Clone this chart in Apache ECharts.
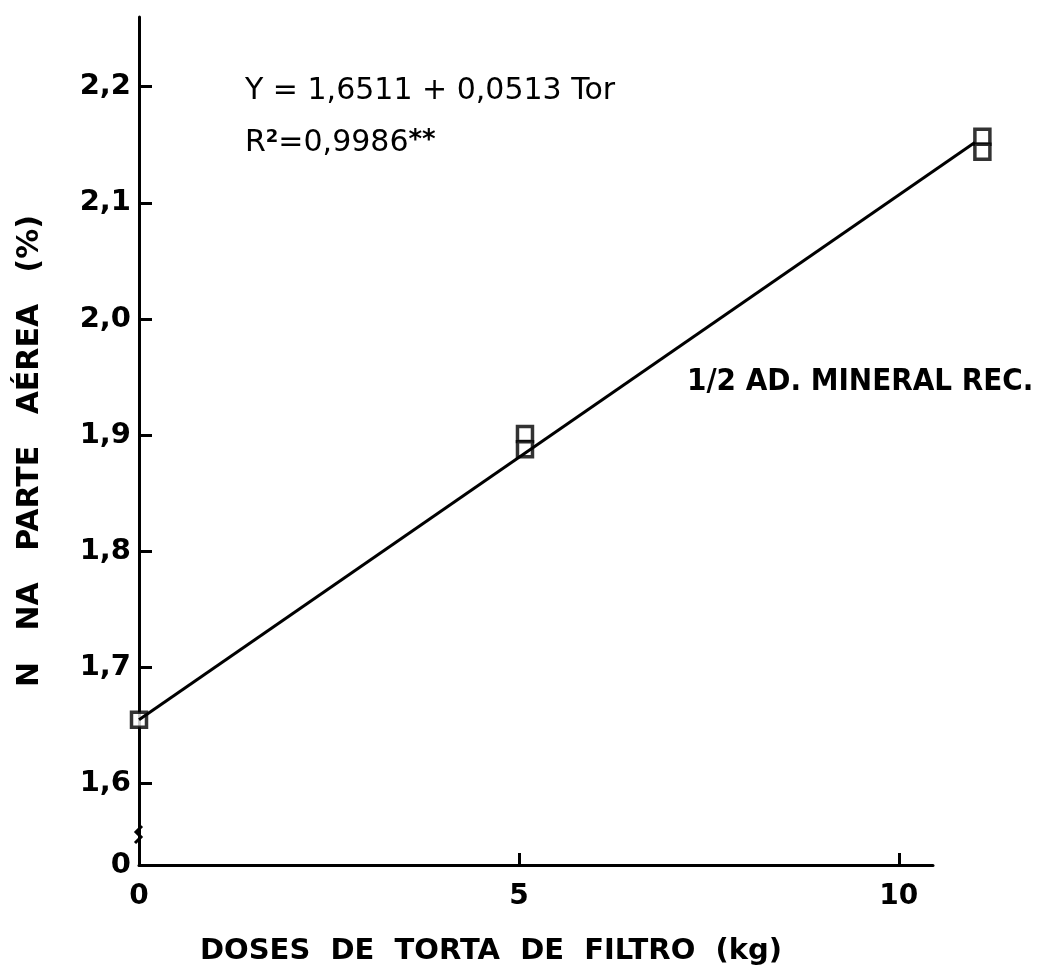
<!DOCTYPE html>
<html>
<head>
<meta charset="utf-8">
<script src="https://cdn.jsdelivr.net/npm/echarts@6/dist/echarts.min.js"></script>
<style>
  html, body { margin: 0; padding: 0; background: #fff; }
  #chart { width: 1040px; height: 978px; }
</style>
</head>
<body>
<div id="chart"></div>
<script>
// dados
const doses = [0, 5.08, 5.08, 11.1, 11.1]
const nParte = [1.655, 1.901, 1.888, 2.157, 2.144]
const fitX = [0, 11.0]
const fitY = [1.655, 2.152]
const yTicks = [1.6, 1.7, 1.8, 1.9, 2.0, 2.1, 2.2]
const xTicks = [0, 5, 10]

const yMin = 1.53
const yMax = 2.26
const xAxisMax = 10.45
const pxPerUnit = 794 / xAxisMax
const xDataMax = 11.5
const font = 'DejaVu Sans'

let ch = echarts.init(document.getElementById('chart'))

let option = {
  animation: false,
  backgroundColor: '#fff',
  grid: [
    // grade dos dados (mais larga, pontos além do fim do eixo x)
    { left: 139, right: 1040 - 139 - pxPerUnit * xDataMax, top: 17, bottom: 113 },
    // grade do eixo x visível
    { left: 139, right: 107, top: 17, bottom: 113 }
  ],
  xAxis: [
    {
      gridIndex: 0, type: 'value', min: 0, max: xDataMax, show: false
    },
    {
      gridIndex: 1,
      type: 'value',
      min: 0,
      max: xAxisMax,
      name: 'DOSES  DE  TORTA  DE  FILTRO  (kg)',
      nameLocation: 'middle',
      nameGap: 72,
      nameTextStyle: { color: '#000', fontFamily: font, fontWeight: 'bold', fontSize: 29, padding: [0, 0, 0, -90] },
      axisLine: { lineStyle: { color: '#000', width: 3 } },
      axisTick: { inside: true, length: 12, lineStyle: { color: '#000', width: 3 }, customValues: [5, 10] },
      axisLabel: {
        customValues: xTicks,
        color: '#000', fontFamily: font, fontWeight: 'bold', fontSize: 28, margin: 18
      },
      splitLine: { show: false }
    }
  ],
  yAxis: [
    {
      gridIndex: 0,
      type: 'value',
      min: yMin,
      max: yMax,
      name: 'N   NA   PARTE   AÉREA   (%)',
      nameLocation: 'middle',
      nameRotate: 90,
      nameGap: 94,
      nameTextStyle: { color: '#000', fontFamily: font, fontWeight: 'bold', fontSize: 30, padding: [0, 20, 0, 0] },
      axisLine: { lineStyle: { color: '#000', width: 3 } },
      axisTick: { inside: true, length: 13, lineStyle: { color: '#000', width: 3 }, customValues: yTicks },
      axisLabel: {
        customValues: [yMin].concat(yTicks),
        color: '#000', fontFamily: font, fontWeight: 'bold', fontSize: 29, margin: 8,
        formatter: v => v === yMin ? '0' : v.toFixed(1).replace('.', ',')
      },
      splitLine: { show: false }
    },
    {
      gridIndex: 1, type: 'value', min: yMin, max: yMax, show: false
    }
  ],
  graphic: [
    {
      type: 'text', left: 245, top: 76,
      style: { text: 'Y = 1,6511 + 0,0513 Tor', fill: '#000', font: '30px "DejaVu Sans"' }
    },
    {
      type: 'text', left: 245, top: 128,
      style: {
        text: '{a|R}{s|2}{a|=0,9986}{t|**}',
        rich: {
          a: { fill: '#000', font: '30px "DejaVu Sans"', verticalAlign: 'bottom' },
          s: { fill: '#000', font: 'bold 18px "DejaVu Sans"', verticalAlign: 'top' },
          t: { fill: '#000', font: 'bold 26px "DejaVu Sans"', verticalAlign: 'top' }
        }
      }
    },
    {
      type: 'text', left: 687, top: 366,
      style: { text: '1/2 AD. MINERAL REC.', fill: '#000', font: 'bold 31px "DejaVu Sans Condensed", "DejaVu Sans"' }
    },
    {
      // quebra do eixo y
      type: 'polyline', z: 10,
      shape: { points: [[142, 826], [136, 832], [141, 837], [135, 843]] },
      style: { stroke: '#000', lineWidth: 3, fill: null }
    }
  ],
  series: [
    {
      type: 'line',
      xAxisIndex: 0, yAxisIndex: 0,
      data: fitX.map((x, i) => [x, fitY[i]]),
      symbol: 'none',
      lineStyle: { color: '#000', width: 3 }
    },
    {
      type: 'scatter',
      xAxisIndex: 0, yAxisIndex: 0,
      data: doses.map((x, i) => [x, nParte[i]]),
      symbol: 'rect',
      symbolSize: [15, 15],
      itemStyle: { color: '#fff', borderColor: '#000', borderWidth: 3.5 }
    }
  ]
}
ch.setOption(option)
</script>
</body>
</html>
